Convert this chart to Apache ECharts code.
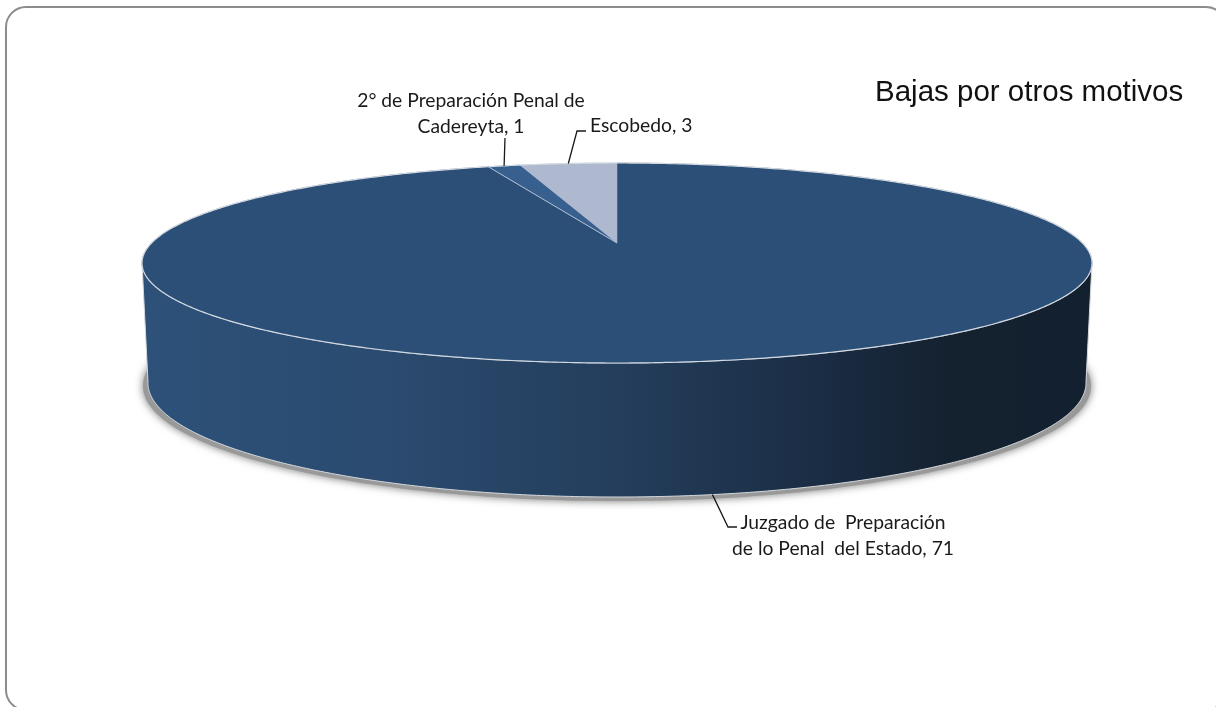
<!DOCTYPE html>
<html><head><meta charset="utf-8">
<style>html,body{margin:0;padding:0;background:#fff}#c{width:1216px;height:707px}</style>
<script src="https://cdn.jsdelivr.net/npm/echarts@6/dist/echarts.min.js"></script>
</head><body><div id="c"></div>
<script>
const categories = ['Juzgado de  Preparación\nde lo Penal  del Estado', '2° de Preparación Penal de\nCadereyta', 'Escobedo'];
const values = [71, 1, 3];
const sliceColors = ['#2c4f77', '#38608f', '#aeb9d0'];
const edgeColors = [null, '#b4c0d0', null];
const labelAnchors = [
  {elbow:[[728,527],[737,527]], text:[843,536], align:'center', bottom:true},
  {elbow:[[505,138]], text:[471,114], align:'center'},
  {elbow:[[577,131],[586,131]], text:[590,126], align:'left', oneLine:true}
];
const top_ = {cx:617, cy:263, rx:475, ry:100};
const bot = {cx:617, cy:383, rx:469, ry:114};
const persp = -0.2;
const total = values.reduce((a,b)=>a+b,0);
function rim(t,e){
  const x=Math.sin(t), y=-Math.cos(t), d=1+persp*y;
  return [e.cx+e.rx*x*Math.sqrt(1-persp*persp)/d, e.cy+e.ry*(y+persp)/d];
}
const chart = echarts.init(document.getElementById('c'),null,{renderer:'canvas'});
function renderItem(params, api){
  const i=params.dataIndex;
  let before=0; for(let k=0;k<i;k++) before+=values[k];
  const a0=before/total*2*Math.PI, a1=(before+api.value(0))/total*2*Math.PI;
  const N=Math.max(8,Math.ceil((a1-a0)*120));
  const apex=[top_.cx, top_.cy+persp*top_.ry];
  const arc=[]; const wallTop=[], wallBot=[];
  for(let k=0;k<=N;k++){
    const t=a0+(a1-a0)*k/N, p=rim(t,top_); arc.push(p);
    if(p[1]>=top_.cy-1){wallTop.push(p); wallBot.push(rim(t,bot));}
  }
  const children=[];
  if(wallTop.length){
    children.push({type:'polygon',shape:{points:wallTop.concat(wallBot.slice().reverse())},
      style:{fill:new echarts.graphic.LinearGradient(0,0,1,0,[
        {offset:0,color:'#2d5179'},{offset:0.25,color:'#2b4b70'},{offset:0.5,color:'#243e5c'},
        {offset:0.72,color:'#1a2c43'},{offset:0.85,color:'#14212f'},{offset:1,color:'#13202f'}]),
        stroke:'#d5d9de',lineWidth:1}});
  }
  children.push({type:'polygon',shape:{points:[apex].concat(arc)},style:{fill:sliceColors[i],stroke:sliceColors[i],lineWidth:0.5}});
  children.push({type:'polyline',shape:{points:arc},style:{fill:null,stroke:'#d3d9e1',lineWidth:1.2}});
  if(edgeColors[i]) children.push({type:'line',shape:{x1:apex[0],y1:apex[1],x2:arc[0][0],y2:arc[0][1]},style:{stroke:edgeColors[i],lineWidth:1}});
  const lab=labelAnchors[i], mid=(a0+a1)/2;
  const start=rim(mid, lab.bottom?bot:top_);
  children.push({type:'polyline',shape:{points:[start].concat(lab.elbow)},style:{fill:null,stroke:'#1a1a1a',lineWidth:1.3}});
  children.push({type:'text',x:lab.text[0],y:lab.text[1],style:{
    text:categories[i]+', '+api.value(0),font:'19.3px Lato, "Open Sans", sans-serif',fill:'#1a1a1a',
    align:lab.align,verticalAlign:'middle',lineHeight:26}});
  return {type:'group',children};
}
chart.setOption({
  animation:false, backgroundColor:'#fff',
  graphic:[
    {type:'rect',z:0,shape:{x:6,y:7,width:1220,height:703,r:20},style:{fill:'#fff',stroke:'#8c8c8c',lineWidth:2}},
    {type:'ellipse',z:1,shape:{cx:617,cy:386,rx:474,ry:115},style:{fill:'#999',shadowBlur:9,shadowColor:'#777'}},
    {type:'text',z:5,x:875,y:93,style:{text:'Bajas por otros motivos',font:'29.5px "Liberation Sans", Arial, sans-serif',fill:'#111',verticalAlign:'middle'}}
  ],
  series:[{type:'custom',coordinateSystem:'none',z:3,silent:true,renderItem,data:values.map(v=>[v])}]
});
</script></body></html>
